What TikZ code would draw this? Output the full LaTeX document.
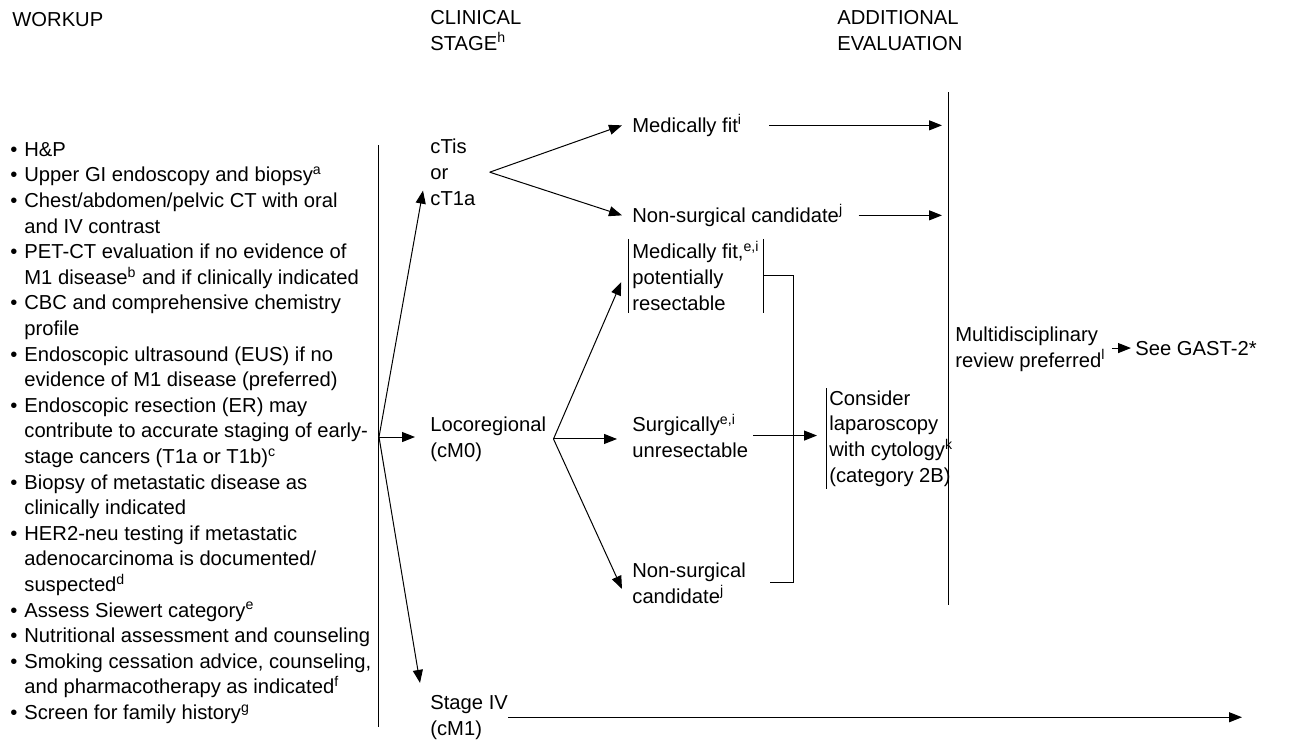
\documentclass[tikz,border=0pt]{standalone}
\usepackage{fontspec}
\setmainfont{Liberation Sans}
\usetikzlibrary{arrows.meta}

\newcommand{\wbul}{\makebox[7pt][l]{\textbullet}}
\newcommand{\wind}{\hspace*{7pt}}

\begin{document}
\begin{tikzpicture}[x=0.5pt, y=-0.5pt,
  txt/.style={font=\fontsize{10.1}{12.8}\selectfont, align=left, anchor=base west, inner sep=0pt},
  opt/.style={txt, inner xsep=5pt},
  ln/.style={line width=0.5pt},
  arr/.style={ln, -{Triangle[length=6.5pt,width=5pt]}}]
\useasboundingbox (0,0) rectangle (1294,740);

% Column headings (nodes sit on the baseline of their last line)
\node[txt] (hwork) at (12,26) {WORKUP};
\node[txt] (hstage) at (430,50) {CLINICAL\\STAGE\textsuperscript{h}};
\node[txt] (heval) at (837,50) {ADDITIONAL\\EVALUATION};

% Workup
\node[txt] (workup) at (10,719.5) {\wbul H\&P\\
\wbul Upper GI endoscopy and biopsy\textsuperscript{a}\\
\wbul Chest/abdomen/pelvic CT with oral\\
\wind and IV contrast\\
\wbul PET-CT evaluation if no evidence of\\
\wind M1 disease\textsuperscript{b} and if clinically indicated\\
\wbul CBC and comprehensive chemistry\\
\wind profile\\
\wbul Endoscopic ultrasound (EUS) if no\\
\wind evidence of M1 disease (preferred)\\
\wbul Endoscopic resection (ER) may\\
\wind contribute to accurate staging of early-\\
\wind stage cancers (T1a or T1b)\textsuperscript{c}\\
\wbul Biopsy of metastatic disease as\\
\wind clinically indicated\\
\wbul HER2-neu testing if metastatic\\
\wind adenocarcinoma is documented/\\
\wind suspected\textsuperscript{d}\\
\wbul Assess Siewert category\textsuperscript{e}\\
\wbul Nutritional assessment and counseling\\
\wbul Smoking cessation advice, counseling,\\
\wind and pharmacotherapy as indicated\textsuperscript{f}\\
\wbul Screen for family history\textsuperscript{g}};
\coordinate (wtop) at (378,145);
\coordinate (wbot) at (378,727);
\coordinate (fan) at (379,437);
\draw[ln] (wtop) -- (wbot);

% Clinical stage
\node[txt] (ctis) at (430,205) {cTis\\or\\cT1a};
\node[txt] (loco) at (430,457) {Locoregional\\(cM0)};
\node[txt] (stg4) at (430,735) {Stage IV\\(cM1)};
\draw[arr] (fan) -- ([xshift=-3.5pt,yshift=7.5pt]ctis.south west);
\draw[arr, shorten >=7.5pt] (fan) -- (fan -| loco.west);
\draw[arr] (fan) -- ([xshift=-5pt,yshift=6pt]stg4.north west);

% cTis or cT1a
\coordinate (cbr) at ([xshift=7pt]ctis.east);
\node[opt] (fit) at (622,132) {Medically fit\textsuperscript{i}};
\node[opt] (nsc) at (622,222) {Non-surgical candidate\textsuperscript{j}};
\draw[arr] (cbr) -- (fit.west);
\draw[arr] (cbr) -- (nsc.west);

% Locoregional
\coordinate (lbr) at ([xshift=3.5pt]loco.east);
\node[txt, inner xsep=2pt, inner ysep=1pt] (mfr) at (628,310) {Medically fit,\textsuperscript{e,i}\\potentially\\resectable};
\node[opt] (sur) at (622,457) {Surgically\textsuperscript{e,i}\\unresectable};
\node[opt] (nsc2) at (622,603) {Non-surgical\\candidate\textsuperscript{j}};
\draw[ln] (mfr.north west) -- (mfr.south west) (mfr.north east) -- (mfr.south east);
\draw[arr, shorten >=3.5pt] (lbr) -- ([xshift=-2pt]mfr.west);
\draw[arr, shorten >=2.5pt] (lbr) -- (lbr -| sur.west);
\draw[arr] (lbr) -- ([yshift=-3pt]nsc2.west);

% Laparoscopy
\node[txt, inner xsep=1.5pt, inner ysep=1pt] (cons) at (826,482) {Consider\\laparoscopy\\with cytology\textsuperscript{k}\\(category 2B)};
\coordinate (join) at (793,437);
\draw[ln] (mfr.east) -| (join) |- ([xshift=7pt]nsc2.east);
\draw[ln] (cons.north west) -- (cons.south west);
\draw[arr, shorten <=-2.5pt, shorten >=4.5pt] (sur.east) -- (sur.east -| cons.west);

% Additional evaluation
\coordinate (etop) at (948,92);
\coordinate (ebot) at (948,605);
\draw[ln] (etop) -- (ebot);
\draw[arr, shorten <=8.5pt, shorten >=3pt] (fit.east) -- (fit.east -| etop);
\draw[arr, shorten <=2.5pt, shorten >=3pt] (nsc.east) -- (nsc.east -| etop);
\node[txt] (mdr) at (955,367) {Multidisciplinary\\review preferred\textsuperscript{l}};
\node[txt, inner xsep=2pt] (gast) at (1131,355) {See GAST-2*};
\draw[arr, shorten <=3pt] (mdr.east |- gast.west) -- (gast.west);

% Stage IV
\coordinate (s4end) at (1242,716);
\draw[arr] (stg4.east) -- (stg4.east -| s4end);
\end{tikzpicture}
\end{document}
